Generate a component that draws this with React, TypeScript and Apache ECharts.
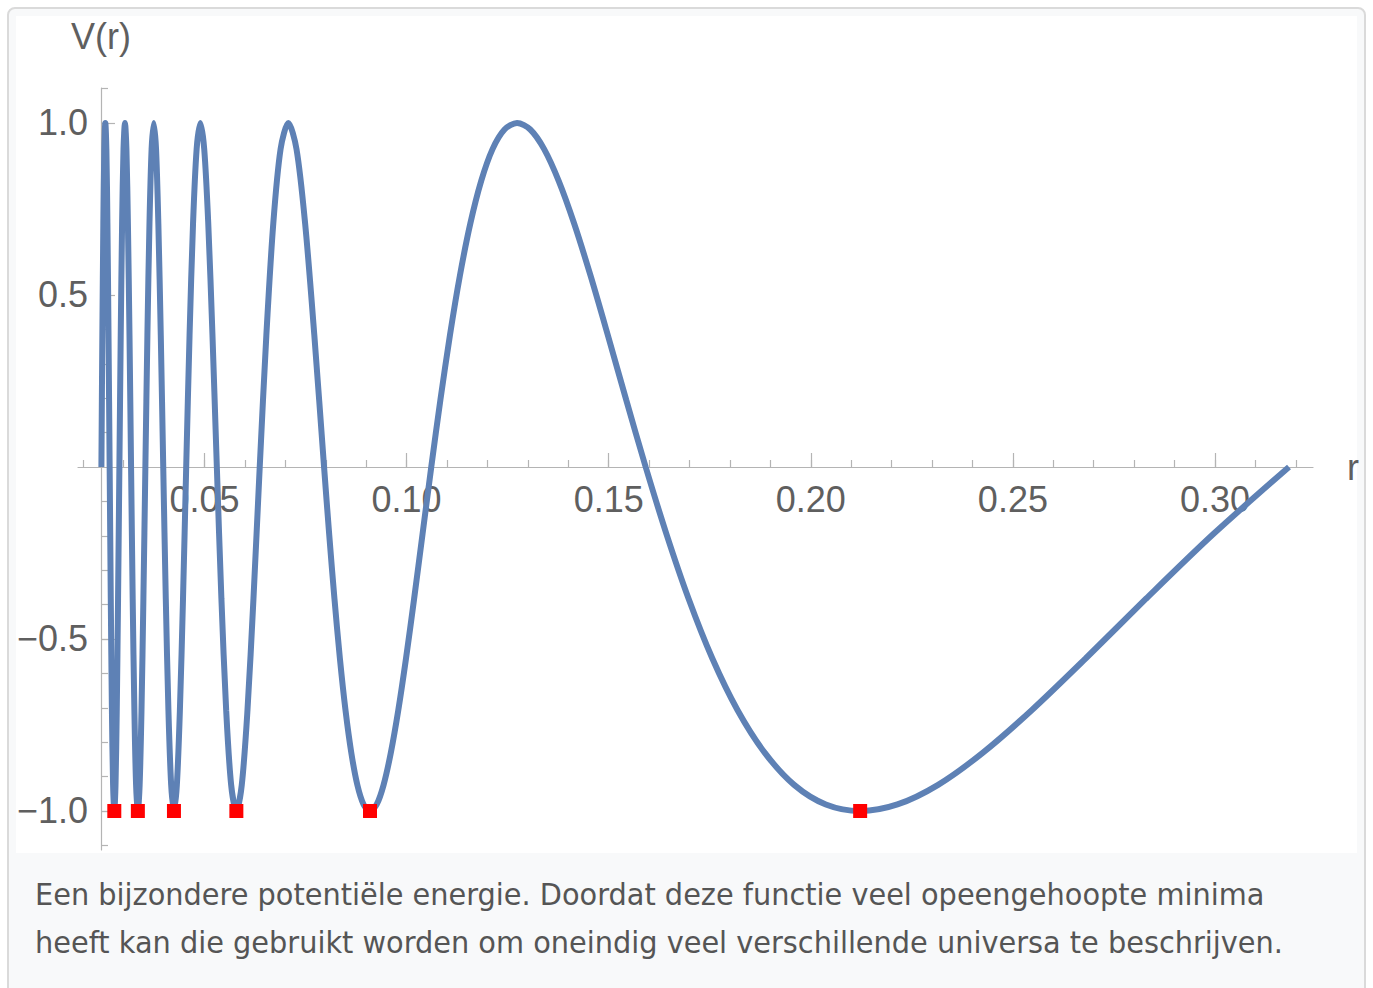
import React, { useEffect, useRef } from "react";
import * as echarts from "echarts";

// r values along the curve (increasing) and V(r)
const rValues = [
  0.02449, 0.02472, 0.02497, 0.02521, 0.02546, 0.02572, 0.02598, 0.02625,
  0.02653, 0.02681, 0.02709, 0.02738, 0.02768, 0.02798, 0.02829, 0.02861,
  0.02894, 0.02927, 0.02961, 0.02996, 0.03032, 0.03068, 0.03105, 0.03144,
  0.03183, 0.03223, 0.03265, 0.03307, 0.03351, 0.03395, 0.03441, 0.03488,
  0.03537, 0.03587, 0.03638, 0.03691, 0.03745, 0.03801, 0.03858, 0.03918,
  0.03979, 0.04042, 0.04107, 0.04175, 0.04244, 0.04316, 0.04391, 0.04468,
  0.04547, 0.0463, 0.04716, 0.04805, 0.04897, 0.04993, 0.05093, 0.05197,
  0.05305, 0.05418, 0.05536, 0.05659, 0.05788, 0.05922, 0.06063, 0.06211,
  0.06366, 0.0653, 0.06701, 0.06882, 0.07074, 0.07276, 0.0749, 0.07717,
  0.07958, 0.08084, 0.08215, 0.08349, 0.08488, 0.08632, 0.08781, 0.08935,
  0.09095, 0.0926, 0.09431, 0.09609, 0.09794, 0.09986, 0.10186, 0.10394,
  0.1061, 0.10836, 0.11072, 0.11318, 0.11575, 0.11844, 0.12126, 0.12422,
  0.12732, 0.13059, 0.13403, 0.13765, 0.14147, 0.14551, 0.14979, 0.15433,
  0.15915, 0.16429, 0.16977, 0.17562, 0.18189, 0.18863, 0.19588, 0.20372,
  0.21221, 0.22143, 0.2315, 0.24252, 0.25465, 0.26805, 0.28294, 0.29959,
  0.31831,
];
const vValues = [
  0,
  0.383, 0.707, 0.924, 1, 0.924, 0.707, 0.383, 0,
  -0.383, -0.707, -0.924, -1, -0.924, -0.707, -0.383, 0,
  0.383, 0.707, 0.924, 1, 0.924, 0.707, 0.383, 0,
  -0.383, -0.707, -0.924, -1, -0.924, -0.707, -0.383, 0,
  0.383, 0.707, 0.924, 1, 0.924, 0.707, 0.383, 0,
  -0.383, -0.707, -0.924, -1, -0.924, -0.707, -0.383, 0,
  0.383, 0.707, 0.924, 1, 0.924, 0.707, 0.383, 0,
  -0.383, -0.707, -0.924, -1, -0.924, -0.707, -0.383, 0,
  0.383, 0.707, 0.924, 1, 0.924, 0.707, 0.383, 0,
  -0.195, -0.383, -0.556, -0.707, -0.831, -0.924, -0.981,
  -1, -0.981, -0.924, -0.831, -0.707, -0.556, -0.383, -0.195,
  0, 0.195, 0.383, 0.556, 0.707, 0.831, 0.924, 0.981,
  1, 0.981, 0.924, 0.831, 0.707, 0.556, 0.383, 0.195,
  0, -0.195, -0.383, -0.556, -0.707, -0.831, -0.924, -0.981,
  -1, -0.981, -0.924, -0.831, -0.707, -0.556, -0.383, -0.195,
  0,
];

// marked minima (red squares)
const minimaR = [0.02768, 0.03351, 0.04244, 0.05788, 0.09095, 0.21221];
const minimaV = [-1, -1, -1, -1, -1, -1];

// ticks
const xMinorTicks = [
  0.02, 0.03, 0.04, 0.05, 0.06, 0.07, 0.08, 0.09, 0.1, 0.11, 0.12, 0.13, 0.14,
  0.15, 0.16, 0.17, 0.18, 0.19, 0.2, 0.21, 0.22, 0.23, 0.24, 0.25, 0.26, 0.27,
  0.28, 0.29, 0.3, 0.31, 0.32,
];
const xMajorTicks = [0.05, 0.1, 0.15, 0.2, 0.25, 0.3];
const yMinorTicks = [
  -1.1, -1.0, -0.9, -0.8, -0.7, -0.6, -0.5, -0.4, -0.3, -0.2, -0.1, 0.1, 0.2,
  0.3, 0.4, 0.5, 0.6, 0.7, 0.8, 0.9, 1.0, 1.1,
];
const yMajorTicks = [-1, -0.5, 0.5, 1];

const xName = "r";
const yName = "V(r)";
const captionLines = [
  "Een bijzondere potentiële energie. Doordat deze functie veel opeengehoopte minima",
  "heeft kan die gebruikt worden om oneindig veel verschillende universa te beschrijven.",
];

const X_MIN = 0.0187;
const X_MAX = 0.32425;
const Y_MIN = -1.1134;
const Y_MAX = 1.1017;

const FONT = "'Liberation Sans', Arial, sans-serif";
const AXIS_COLOR = "#b4b4b4";
const LABEL_COLOR = "#5f5f5f";
const LINE_COLOR = "#5e81b5";

export default function App() {
  const ref = useRef<HTMLDivElement>(null);

  useEffect(() => {
    document.body.style.margin = "0";
    document.body.style.overflow = "hidden";
    if (!ref.current) return;
    const chart = echarts.init(ref.current, undefined, { renderer: "svg" });

    const fmtY = (v: number) =>
      v < 0 ? "\u2212" + Math.abs(v).toFixed(1) : v.toFixed(1);

    const baseX = {
      type: "value" as const,
      position: "bottom" as const,
      offset: -383,
      min: X_MIN,
      max: X_MAX,
      splitLine: { show: false },
      axisLine: {
        show: true,
        onZero: false,
        lineStyle: { color: AXIS_COLOR, width: 1.2 },
      },
    };
    const baseY = {
      type: "value" as const,
      position: "left" as const,
      min: Y_MIN,
      max: Y_MAX,
      offset: -23,
      splitLine: { show: false },
      axisLine: {
        show: true,
        onZero: false,
        lineStyle: { color: AXIS_COLOR, width: 1.2 },
      },
    };

    chart.setOption({
      animation: false,
      textStyle: { fontFamily: FONT },
      grid: { left: 78, top: 88, width: 1235, height: 762, containLabel: false },
      graphic: [
        {
          type: "rect",
          z: -20,
          silent: true,
          shape: { x: 8, y: 8, width: 1357, height: 1000, r: 7 },
          style: { fill: "#f8f9fa", stroke: "#dadada", lineWidth: 2 },
        },
        {
          type: "rect",
          z: -19,
          silent: true,
          shape: { x: 16, y: 16, width: 1341, height: 837 },
          style: { fill: "#ffffff" },
        },
        ...captionLines.map((t, i) => ({
          type: "text",
          z: 10,
          silent: true,
          x: 35,
          y: 880 + i * 48,
          scaleX: 0.96,
          style: {
            text: t,
            fill: "#555555",
            font: "30px 'DejaVu Sans', sans-serif",
            verticalAlign: "top",
          },
        })),
      ],
      xAxis: [
        {
          ...baseX,
          axisTick: {
            show: true,
            inside: true,
            length: 7,
            customValues: xMinorTicks,
            lineStyle: { color: AXIS_COLOR, width: 1.2 },
          },
          axisLabel: { show: false },
        },
        {
          ...baseX,
          axisLine: { ...baseX.axisLine, lineStyle: { color: AXIS_COLOR, opacity: 0 } },
          name: xName,
          nameLocation: "end",
          nameGap: 34,
          nameTextStyle: { fontSize: 36, color: LABEL_COLOR, fontFamily: FONT },
          axisTick: {
            show: true,
            inside: true,
            length: 14,
            customValues: xMajorTicks,
            lineStyle: { color: AXIS_COLOR, width: 1.2 },
          },
          axisLabel: {
            show: true,
            customValues: xMajorTicks,
            formatter: (v: number) => v.toFixed(2),
            fontSize: 36,
            color: LABEL_COLOR,
            fontFamily: FONT,
            margin: 14,
          },
        },
      ],
      yAxis: [
        {
          ...baseY,
          axisTick: {
            show: true,
            inside: true,
            length: 7,
            customValues: yMinorTicks,
            lineStyle: { color: AXIS_COLOR, width: 1.2 },
          },
          axisLabel: { show: false },
        },
        {
          ...baseY,
          axisLine: { ...baseY.axisLine, lineStyle: { color: AXIS_COLOR, opacity: 0 } },
          name: yName,
          nameLocation: "end",
          nameGap: 34,
          nameTextStyle: { fontSize: 36, color: LABEL_COLOR, fontFamily: FONT },
          axisTick: {
            show: true,
            inside: true,
            length: 14,
            customValues: yMajorTicks,
            lineStyle: { color: AXIS_COLOR, width: 1.2 },
          },
          axisLabel: {
            show: true,
            customValues: yMajorTicks,
            formatter: fmtY,
            fontSize: 36,
            color: LABEL_COLOR,
            fontFamily: FONT,
            margin: 13,
          },
        },
      ],
      series: [
        {
          type: "line",
          xAxisIndex: 0,
          yAxisIndex: 0,
          data: rValues.map((r, i) => [r, vValues[i]]),
          showSymbol: false,
          smooth: 0.3,
          lineStyle: { color: LINE_COLOR, width: 6 },
          z: 3,
        },
        {
          type: "scatter",
          xAxisIndex: 0,
          yAxisIndex: 0,
          data: minimaR.map((r, i) => [r, minimaV[i]]),
          symbol: "rect",
          symbolSize: 14,
          itemStyle: { color: "#ff0000", opacity: 1 },
          z: 4,
        },
      ],
    });

    return () => chart.dispose();
  }, []);

  return <div ref={ref} style={{ width: 1373, height: 988 }} />;
}
